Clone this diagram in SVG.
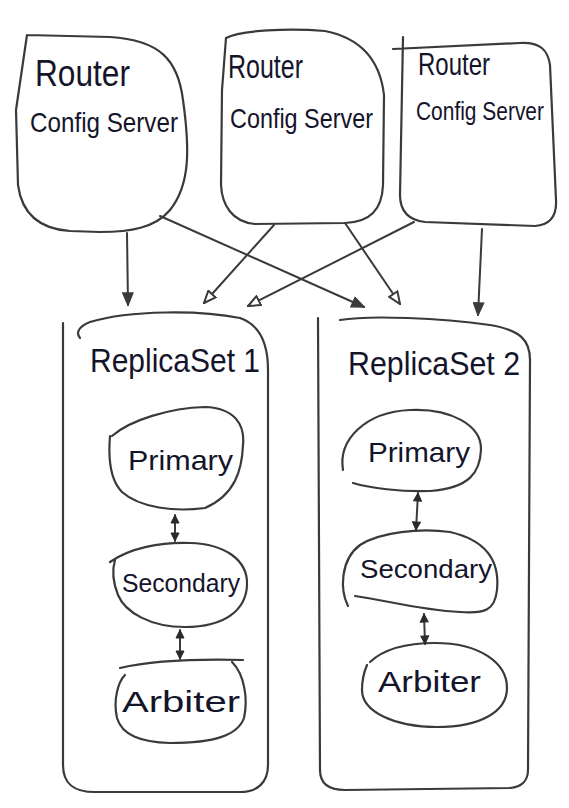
<svg xmlns="http://www.w3.org/2000/svg" width="569" height="808" viewBox="0 0 569 808">
<style>
.sh{fill:none;stroke:#3a3a3a;stroke-width:2.2;stroke-linecap:round;stroke-linejoin:round}
.cn{fill:none;stroke:#3a3a3a;stroke-width:2;stroke-linecap:round}
.t{font-family:"Liberation Sans",Arial,sans-serif;fill:#14142a}
</style>
<defs>
<marker id="af" viewBox="0 0 14 12" refX="13" refY="6" markerWidth="14" markerHeight="12" markerUnits="userSpaceOnUse" orient="auto">
<path d="M1,1 L13,6 L1,11 Z" fill="#3a3a3a" stroke="#3a3a3a" stroke-width="1.5"/>
</marker>
<marker id="ah" viewBox="0 0 14 12" refX="13" refY="6" markerWidth="14" markerHeight="12" markerUnits="userSpaceOnUse" orient="auto">
<path d="M1,1 L13,6 L1,11 Z" fill="#fff" stroke="#3a3a3a" stroke-width="2"/>
</marker>
<marker id="sm" viewBox="0 0 10 10" refX="9" refY="5" markerWidth="10" markerHeight="10" markerUnits="userSpaceOnUse" orient="auto-start-reverse">
<path d="M1,1 L9,5 L1,9 Z" fill="#2a2a2a" stroke="#2a2a2a" stroke-width="1"/>
</marker>
</defs>
<rect width="569" height="808" fill="#fff"/>

<g id="router1">
<path class="sh" d="M27,35 L110,37 C160,40 178,60 183,100 C190,150 190,185 170,210 C155,228 130,232 100,232 L70,231 C40,229 22,215 18,185 L16,110 L27,35"/>
<text class="t" x="35" y="86" font-size="36" textLength="95" lengthAdjust="spacingAndGlyphs">Router</text>
<text class="t" x="30" y="132" font-size="28" textLength="148" lengthAdjust="spacingAndGlyphs">Config Server</text>
</g>
<g id="router2">
<path class="sh" d="M226,38 C240,30 290,28 325,31 C360,38 380,60 384,95 L383,185 C382,210 370,222 345,223 L255,224 C232,222 222,205 221,185 L222,90 Z"/>
<text class="t" x="228" y="78" font-size="34" textLength="75" lengthAdjust="spacingAndGlyphs">Router</text>
<text class="t" x="230" y="128" font-size="28" textLength="143" lengthAdjust="spacingAndGlyphs">Config Server</text>
</g>
<g id="router3">
<path class="sh" d="M393,49 L520,43 C540,42 548,50 550,65 L556,200 C557,218 548,225 535,226 L425,222 C408,220 400,210 400,195 L403,37"/>
<text class="t" x="418" y="75" font-size="32" textLength="72" lengthAdjust="spacingAndGlyphs">Router</text>
<text class="t" x="416" y="120" font-size="25" textLength="128" lengthAdjust="spacingAndGlyphs">Config Server</text>
</g>

<g id="replicaset1">
<path class="sh" d="M63,323 L63,765 C63,785 75,792 95,792 L240,792 C258,792 268,782 268,765 L268,370 C268,345 260,325 240,318 C200,310 130,310 90,322 C80,326 75,332 80,338"/>
<text class="t" x="90" y="372" font-size="34" textLength="170" lengthAdjust="spacingAndGlyphs">ReplicaSet 1</text>
</g>
<g id="rs1-primary">
<path class="sh" d="M112,436 C130,420 170,408 205,407 C235,408 245,425 243,445 C242,470 235,495 205,508 C175,512 140,508 122,492 C110,480 108,460 110,436"/>
<text class="t" x="128" y="470" font-size="28" textLength="105" lengthAdjust="spacingAndGlyphs">Primary</text>
</g>
<g id="rs1-secondary">
<path class="sh" d="M110,562 C130,548 160,542 190,543 C225,544 248,560 247,585 C246,610 225,627 185,627 C150,627 125,612 118,595 C112,580 112,570 115,560"/>
<text class="t" x="122" y="592" font-size="26" textLength="118" lengthAdjust="spacingAndGlyphs">Secondary</text>
</g>
<g id="rs1-arbiter">
<path class="sh" d="M120,668 C150,661 200,659 243,660 M232,662 C245,675 248,700 244,718 C238,735 215,743 170,743 C140,742 122,735 117,718 C113,700 118,682 125,675"/>
<text class="t" x="122" y="712" font-size="30" textLength="118" lengthAdjust="spacingAndGlyphs">Arbiter</text>
</g>

<g id="replicaset2">
<path class="sh" d="M318,318 L320,770 C320,785 330,790 345,790 L510,788 C522,787 528,780 528,770 L530,360 C530,340 520,330 490,325 C440,318 370,315 340,320"/>
<text class="t" x="348" y="375" font-size="34" textLength="172" lengthAdjust="spacingAndGlyphs">ReplicaSet 2</text>
</g>
<g id="rs2-primary">
<path class="sh" d="M343,470 C338,440 365,412 410,410 C450,408 482,425 481,450 C480,472 470,488 430,491 C400,492 370,488 353,483"/>
<text class="t" x="368" y="462" font-size="28" textLength="102" lengthAdjust="spacingAndGlyphs">Primary</text>
</g>
<g id="rs2-secondary">
<path class="sh" d="M348,606 C340,590 340,560 360,545 C380,532 420,528 450,532 C485,540 500,560 497,590 C495,610 485,614 460,612 C420,610 385,600 355,596"/>
<text class="t" x="360" y="578" font-size="26" textLength="132" lengthAdjust="spacingAndGlyphs">Secondary</text>
</g>
<g id="rs2-arbiter">
<path class="sh" d="M370,662 C385,648 410,643 435,643 C480,643 507,663 507,688 C507,712 480,727 437,727 C395,727 362,712 362,690 C362,680 364,672 367,665"/>
<text class="t" x="378" y="692" font-size="30" textLength="103" lengthAdjust="spacingAndGlyphs">Arbiter</text>
</g>

<g id="connectors">
<path class="cn" d="M127,233 L128,305" marker-end="url(#af)"/>
<path class="cn" d="M160,216 L364,307" marker-end="url(#af)"/>
<path class="cn" d="M274,225 L204,303" marker-end="url(#ah)"/>
<path class="cn" d="M345,223 L400,304" marker-end="url(#ah)"/>
<path class="cn" d="M414,222 L248,306" marker-end="url(#ah)"/>
<path class="cn" d="M482,229 L478,315" marker-end="url(#af)"/>
<path class="cn" d="M175,515 L175,541" marker-start="url(#sm)" marker-end="url(#sm)"/>
<path class="cn" d="M180,630 L180,659" marker-start="url(#sm)" marker-end="url(#sm)"/>
<path class="cn" d="M418,493 L416,530" marker-start="url(#sm)" marker-end="url(#sm)"/>
<path class="cn" d="M424,614 L425,644" marker-start="url(#sm)" marker-end="url(#sm)"/>
</g>
</svg>
